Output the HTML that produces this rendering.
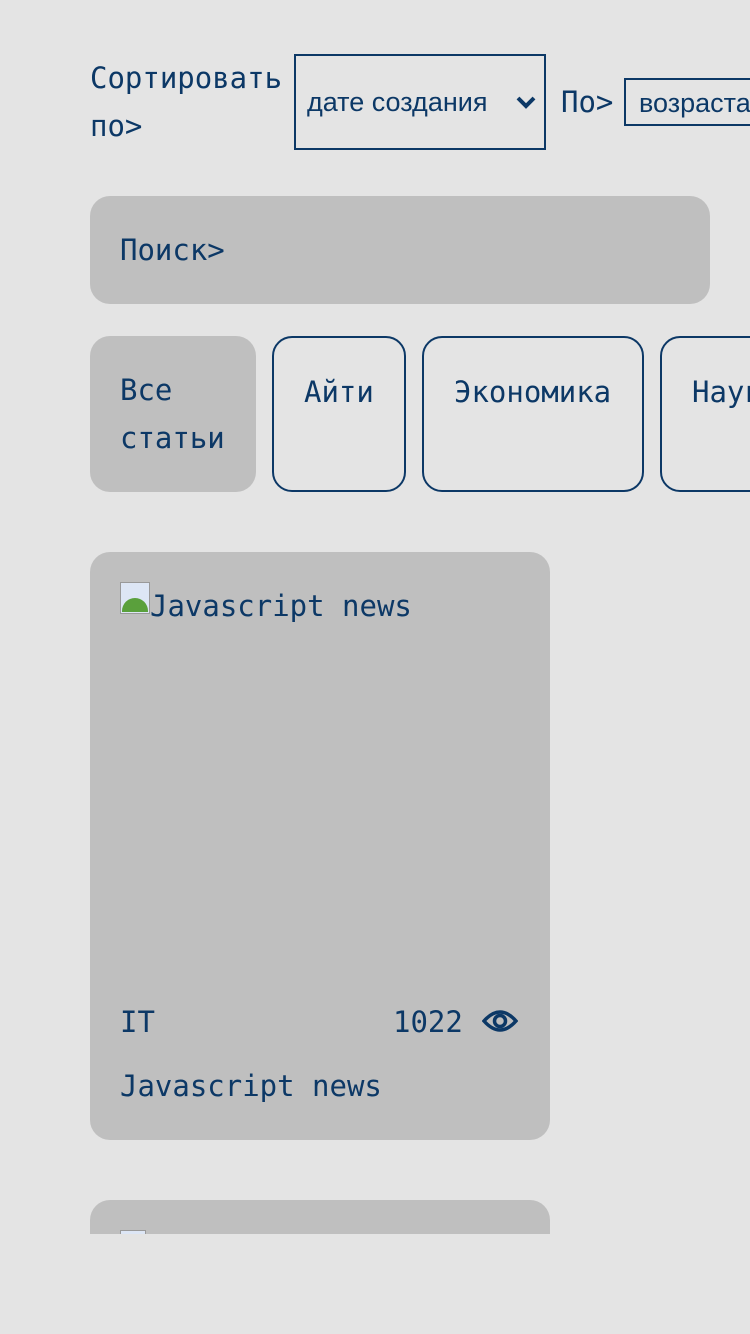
<!DOCTYPE html>
<html><head><meta charset="utf-8"><style>
html,body{margin:0;padding:0;background:#e4e4e4;width:750px;height:1334px;overflow:hidden;position:relative}
.m{font-family:"DejaVu Sans Mono","Liberation Mono",monospace;font-size:29px;color:#0c3866;position:absolute;white-space:nowrap;line-height:48px}
.s{font-family:"Liberation Sans",sans-serif;font-size:27px;color:#0c3866;position:absolute;white-space:nowrap}
.box{position:absolute;box-sizing:border-box}
</style></head><body>
<div style="position:absolute;left:0;top:0;width:750px;height:1234px;overflow:hidden">
<div class="m" style="left:90px;top:54px">Сортировать<br>по&gt;</div>
<div class="box" style="left:294px;top:54px;width:252px;height:96px;border:2px solid #0c3866"></div>
<div class="s" style="left:307px;top:87px">дате создания</div>
<svg style="position:absolute;left:515px;top:95px" width="22" height="16"><polyline points="3,3 11,11 19,3" fill="none" stroke="#0c3866" stroke-width="4"/></svg>
<div class="m" style="left:561px;top:78px">По&gt;</div>
<div class="box" style="left:624px;top:78px;width:140px;height:48px;border:2px solid #0c3866"></div>
<div class="s" style="left:639px;top:88px">возраста</div>

<div class="box" style="left:90px;top:196px;width:620px;height:108px;background:#bfbfbf;border-radius:20px"></div>
<div class="m" style="left:120px;top:226px">Поиск&gt;</div>

<div class="box" style="left:90px;top:336px;width:166px;height:156px;background:#bfbfbf;border-radius:20px"></div>
<div class="m" style="left:120px;top:366px">Все<br>статьи</div>
<div class="box" style="left:272px;top:336px;width:134px;height:156px;border:2px solid #0c3866;border-radius:20px"></div>
<div class="m" style="left:304px;top:368px">Айти</div>
<div class="box" style="left:422px;top:336px;width:222px;height:156px;border:2px solid #0c3866;border-radius:20px"></div>
<div class="m" style="left:454px;top:368px">Экономика</div>
<div class="box" style="left:660px;top:336px;width:140px;height:156px;border:2px solid #0c3866;border-radius:20px"></div>
<div class="m" style="left:692px;top:368px">Наука</div>

<div class="box" style="left:90px;top:552px;width:460px;height:588px;background:#bfbfbf;border-radius:20px"></div>
<div class="box" style="left:120px;top:582px;width:30px;height:32px;background:#dde6f5;border:1px solid #999"></div>
<div class="box" style="left:122px;top:598px;width:26px;height:14px;background:#5aa03c;border-radius:14px 14px 0 0"></div>
<div class="m" style="left:150px;top:582px">Javascript news</div>
<div class="m" style="left:120px;top:998px">IT</div>
<div class="m" style="left:393px;top:998px">1022</div>
<svg style="position:absolute;left:482px;top:1006px" width="36" height="30"><path d="M2,15 Q18,-3 34,15 Q18,33 2,15Z" fill="none" stroke="#0c3866" stroke-width="3.5"/><circle cx="18" cy="15" r="5.5" fill="none" stroke="#0c3866" stroke-width="3.5"/></svg>
<div class="m" style="left:120px;top:1062px">Javascript news</div>

<div class="box" style="left:90px;top:1200px;width:460px;height:200px;background:#bfbfbf;border-radius:20px"></div>
<div class="box" style="left:120px;top:1230px;width:26px;height:10px;background:#dde6f5;border:1px solid #999"></div>
</div>
</body></html>
